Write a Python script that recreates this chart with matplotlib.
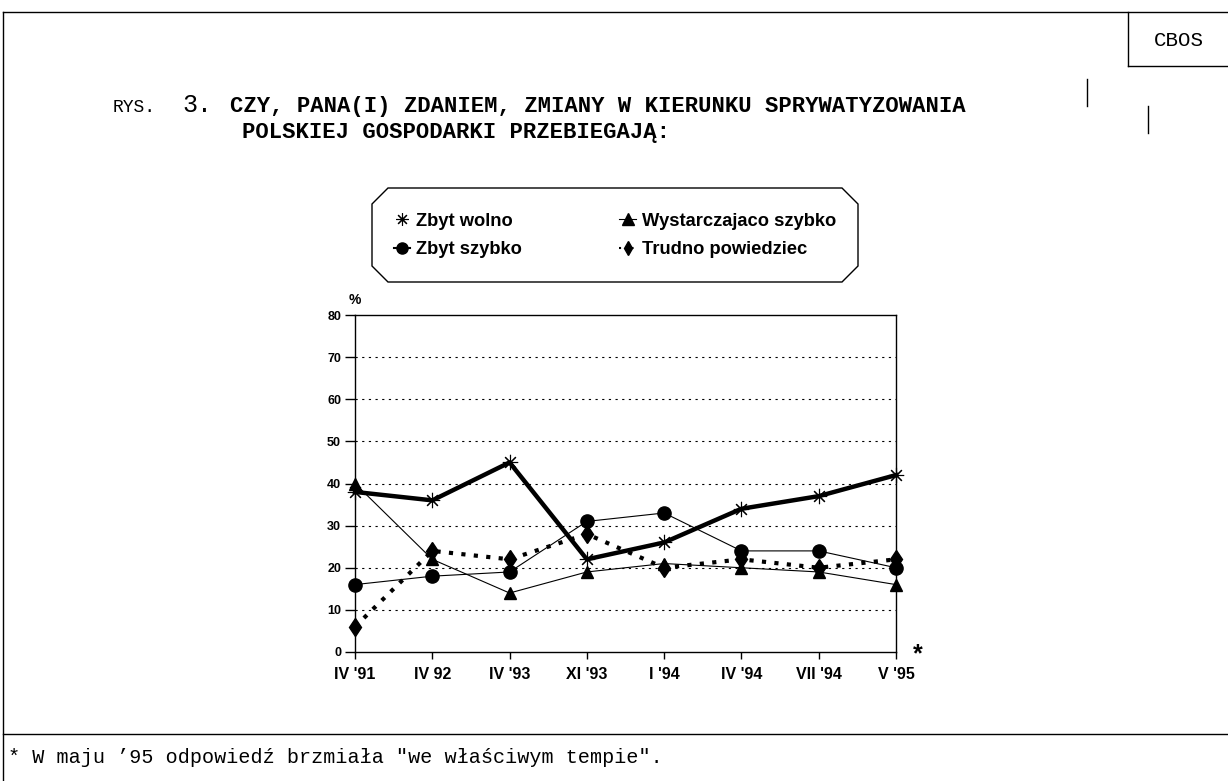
import numpy as np
import matplotlib
matplotlib.use("Agg")
import matplotlib.pyplot as plt
from matplotlib.lines import Line2D
from matplotlib.patches import Polygon

# ------------------------------------------
# DATA
# ------------------------------------------
periods = ["IV '91", "IV 92", "IV '93", "XI '93", "I '94", "IV '94", "VII '94", "V '95"]
zbyt_wolno = [38, 36, 45, 22, 26, 34, 37, 42]
wystarczajaco = [40, 22, 14, 19, 21, 20, 19, 16]
zbyt_szybko = [16, 18, 19, 31, 33, 24, 24, 20]
trudno = [6, 24, 22, 28, 20, 22, 20, 22]
y_ticks = [0, 10, 20, 30, 40, 50, 60, 70, 80]

W, H = 1228, 781
fig = plt.figure(figsize=(W / 100, H / 100), dpi=100)
fig.patch.set_facecolor("white")


def fx(px):
    return px / W


def fy(py):
    return 1 - py / H


mono = "Liberation Mono"
sans = "Liberation Sans"

# ------------------------------------------
# PAGE FRAME
# ------------------------------------------
frame = [
    ([3, 1228], [12, 12]),
    ([3, 3], [12, 781]),
    ([3, 1228], [734, 734]),
    ([1128, 1128], [12, 66]),
    ([1128, 1228], [66, 66]),
    ([1087, 1087], [79, 106]),
    ([1148, 1148], [106, 133]),
]
for xs, ys in frame:
    fig.add_artist(Line2D([fx(v) for v in xs], [fy(v) for v in ys],
                          color="black", lw=1.0))

fig.text(fx(1179), fy(40), "CBOS", family=mono, fontsize=15,
         ha="center", va="center")

# title
fig.text(fx(113), fy(112), "RYS.", family=mono, fontsize=13, va="baseline")
fig.text(fx(182), fy(112), "3.", family=mono, fontsize=18, va="baseline")
fig.text(fx(230), fy(112), "CZY, PANA(I) ZDANIEM, ZMIANY W KIERUNKU SPRYWATYZOWANIA",
         family=mono, fontsize=16, weight="bold", va="baseline")
fig.text(fx(242), fy(138), "POLSKIEJ GOSPODARKI PRZEBIEGAJĄ:",
         family=mono, fontsize=16, weight="bold", va="baseline")

# footnote
fig.text(fx(8), fy(763), '* W maju \u201995 odpowiedź brzmiała "we właściwym tempie".',
         family=mono, fontsize=14.5, va="baseline")

# ------------------------------------------
# CHART
# ------------------------------------------
ax = fig.add_axes([fx(355), fy(652), fx(896) - fx(355), fy(315) - fy(652)])
x = np.arange(len(periods))

ax.plot(x, zbyt_wolno, color="black", lw=3.2, marker=(8, 2, 0), ms=11,
        mew=0.8, clip_on=False, zorder=5)
ax.plot(x, zbyt_szybko, color="black", lw=0.8, marker="o", ms=9.5,
        clip_on=False, zorder=4)
ax.plot(x, wystarczajaco, color="black", lw=0.8, marker="^", ms=9,
        clip_on=False, zorder=4)
ax.plot(x, trudno, color="black", lw=3, ls=(0, (1, 2)), marker="d", ms=9.5,
        dash_capstyle="butt", clip_on=False, zorder=3)

ax.set_xlim(0, 7)
ax.set_ylim(0, 80)
ax.set_yticks(y_ticks)
ax.set_yticklabels([str(v) for v in y_ticks])
ax.set_xticks(x)
ax.set_xticklabels(periods)
for s in ax.spines.values():
    s.set_color("black")
    s.set_linewidth(1.0)

ax.tick_params(axis="y", direction="out", length=7, width=1, pad=3)
ax.tick_params(axis="x", direction="out", length=5, width=1, pad=6)
for lab in ax.get_yticklabels():
    lab.set_family(sans)
    lab.set_weight("bold")
    lab.set_fontsize(9)
for lab in ax.get_xticklabels():
    lab.set_family(sans)
    lab.set_weight("bold")
    lab.set_fontsize(11.5)

for v in y_ticks[1:-1]:
    ax.axhline(v, color="black", lw=0.8, ls=(0, (2, 4)), zorder=1)

fig.text(fx(349), fy(300), "%", family=sans, weight="bold", fontsize=10,
         va="center")
fig.text(fx(913), fy(654), "*", family=sans, weight="bold", fontsize=18,
         va="center")

# ------------------------------------------
# LEGEND
# ------------------------------------------
l, r, t, b, c = 372, 858, 188, 282, 16
pts = [(l + c, t), (r - c, t), (r, t + c), (r, b - c), (r - c, b),
       (l + c, b), (l, b - c), (l, t + c)]
fig.add_artist(Polygon([(fx(px), fy(py)) for px, py in pts], closed=True,
                       fill=False, edgecolor="black", lw=1.0))

leg_handles = [
    Line2D([], [], color="black", lw=0, marker=(8, 2, 0), ms=9, mew=0.8),
    Line2D([], [], color="black", lw=1.5, marker="o", ms=8),
    Line2D([], [], color="black", lw=0.8, marker="^", ms=8),
    Line2D([], [], color="black", lw=1.5, ls=(0, (1, 2)), marker="d", ms=7),
]
leg_labels = ["Zbyt wolno", "Zbyt szybko", "Wystarczajaco szybko", "Trudno powiedziec"]
fig.legend(leg_handles, leg_labels,
           loc="center left", bbox_to_anchor=(fx(377), fy(235.5)),
           ncol=2, frameon=False, handlelength=0.9, handletextpad=0.35,
           columnspacing=5.3, labelspacing=0.65,
           prop={"family": sans, "weight": "bold", "size": 13.2})

plt.savefig("out.png", dpi=100)
